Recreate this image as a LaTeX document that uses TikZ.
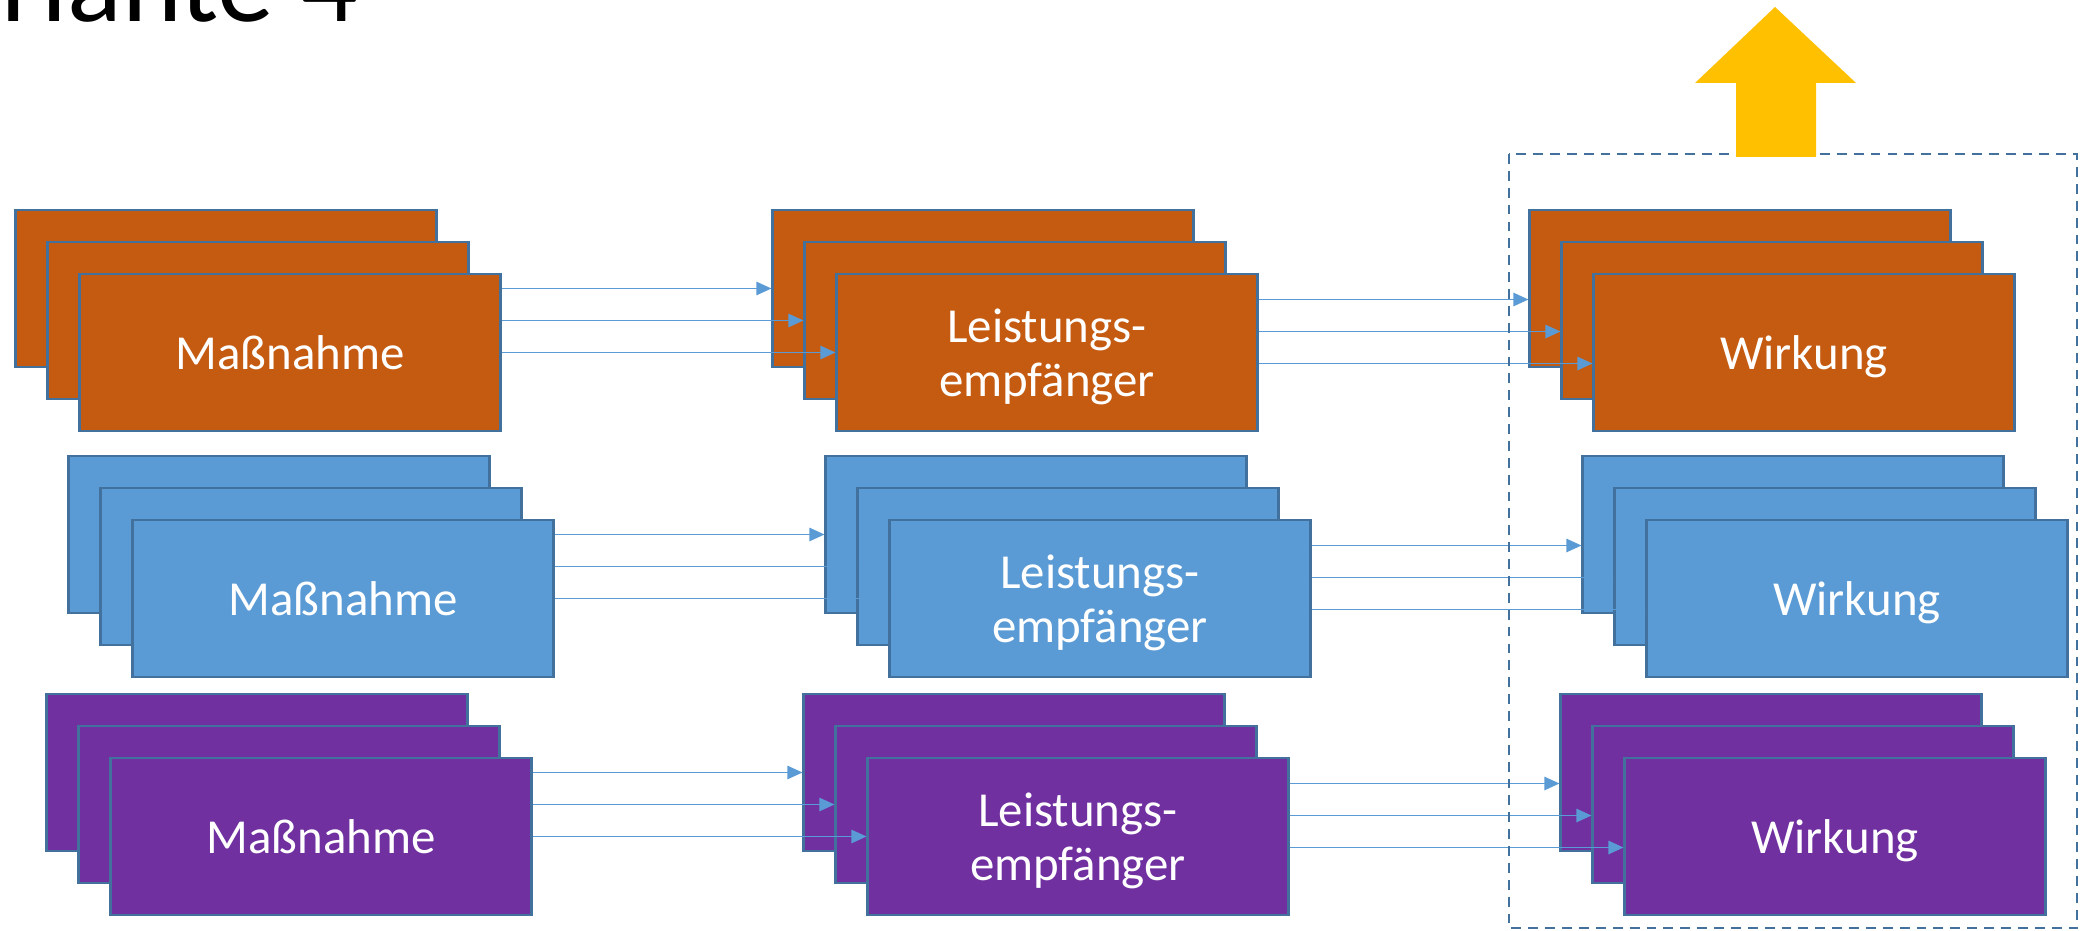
\documentclass[tikz,border=0pt]{standalone}
\usepackage{fontspec}
\setmainfont{Carlito}
\usepackage{tikz}
\usetikzlibrary{arrows.meta}
\usetikzlibrary{calc}
\definecolor{rahmen}{HTML}{41719C}
\definecolor{orng}{HTML}{C55A11}
\definecolor{blau}{HTML}{5B9BD5}
\definecolor{lila}{HTML}{7030A0}
\definecolor{gelb}{HTML}{FFC000}
\tikzset{karte/.style={draw=rahmen,line width=0.8pt,text=white,minimum width=4.2cm,minimum height=1.57cm,inner sep=0pt,text depth=0pt,align=center,font=\fontsize{13.9}{15.5}\selectfont}}
\tikzset{pfeil/.style={draw=blau,line width=0.5pt,-{Triangle[length=4.3pt,width=3.8pt]}}}

\begin{document}
\begin{tikzpicture}[x=0.01cm,y=-0.01cm]
  \useasboundingbox (0,0) rectangle (2085,931);
  \clip (0,0) rectangle (2085,931);
  \node[anchor=base west,inner sep=0pt,font=\fontsize{32.4}{32.4}\selectfont] (titel) at (-112,22) {Variante 4};
  % drei Zeilen: Massnahme -> Leistungsempfaenger -> Wirkung
  \foreach \zeile/\fb/\xa/\ya in {o/orng/16/210, b/blau/69/456, p/lila/47/694} {
    \foreach \k/\tm/\tl/\tw in {0/{}/{}/{}, 1/{}/{}/{}, 2/{Maßnahme}/{Leistungs-\\empfänger}/{Wirkung}} {
      \node[karte,fill=\fb] (\zeile M\k) at ({\xa+210+32*\k},{\ya+78.5+32*\k}) {\tm};
      \node[karte,fill=\fb] (\zeile L\k) at ({\xa+967+32*\k},{\ya+78.5+32*\k}) {\tl};
      \node[karte,fill=\fb] (\zeile W\k) at ({\xa+1724+32*\k},{\ya+78.5+32*\k}) {\tw};
    }
    \foreach \k in {0,1,2} {
      \coordinate (\zeile Z\k) at ([yshift=-0.11cm]\zeile W\k.west);
      \draw[pfeil] (\zeile M2.east |- \zeile L\k.west) -- (\zeile L\k.west);
      \draw[pfeil] (\zeile L2.east |- \zeile Z\k) -- (\zeile Z\k);
    }
  }
  \draw[rahmen,line width=0.7pt,dash pattern=on 2.8pt off 2pt] (1509,154) rectangle (2077,928);
  \fill[gelb] (1736,157) -- (1736,83) -- (1695,83) -- (1775,7) -- (1856,83) -- (1816,83) -- (1816,157) -- cycle;
\end{tikzpicture}
\end{document}
